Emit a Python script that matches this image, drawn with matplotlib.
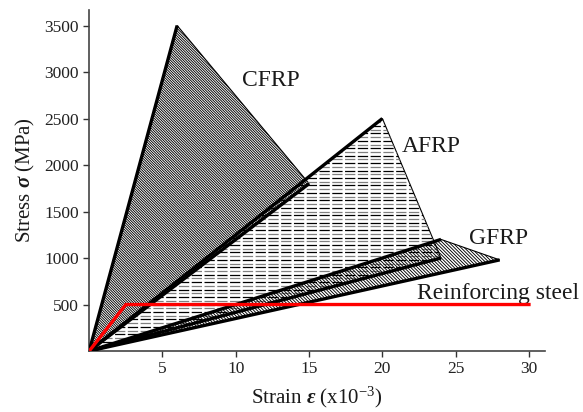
import matplotlib
matplotlib.use("Agg")
import matplotlib.pyplot as plt
import numpy as np
from matplotlib.patches import Polygon

plt.rcParams["font.family"] = ["Liberation Serif", "DejaVu Serif"]
plt.rcParams["mathtext.fontset"] = "custom"
plt.rcParams["mathtext.rm"] = "Liberation Serif"
plt.rcParams["mathtext.it"] = "Liberation Serif:italic"
plt.rcParams["mathtext.bfit"] = "Liberation Serif:bold:italic"
plt.rcParams["lines.scale_dashes"] = False
plt.rcParams["hatch.linewidth"] = 0.65

# Stress-strain envelopes: (strain x1e-3, stress MPa) corner points
cfrp_strain = [0, 6, 15]
cfrp_stress = [0, 3500, 1800]
afrp_strain = [0, 20, 24]
afrp_stress = [0, 2500, 1000]
gfrp_strain = [0, 24, 28]
gfrp_stress = [0, 1200, 980]
steel_strain = [0, 2.5, 30]
steel_stress = [0, 500, 500]

x_ticks = [5, 10, 15, 20, 25, 30]
y_ticks = [500, 1000, 1500, 2000, 2500, 3000, 3500]

fig = plt.figure(figsize=(5.83, 4.12), dpi=100)
ax = fig.add_axes([0.153, 0.148, 0.782, 0.828])
ax.set_xlim(0, 31.1)
ax.set_ylim(0, 3668)


def rays(strain, stress):
    # bold bounding rays from the origin
    for i in (1, 2):
        ax.plot([strain[0], strain[i]], [stress[0], stress[i]], color="black",
                lw=2.4, solid_capstyle="butt", zorder=4)


def envelope(strain, stress, hatch):
    poly = Polygon(np.column_stack([strain, stress]), closed=True,
                   facecolor="none", edgecolor="black", hatch=hatch,
                   linewidth=0.8, zorder=2)
    ax.add_patch(poly)
    rays(strain, stress)
    return poly


envelope(cfrp_strain, cfrp_stress, "\\" * 13)

# AFRP: rows of horizontal dashes clipped to the envelope
afrp = Polygon(np.column_stack([afrp_strain, afrp_stress]), closed=True,
               facecolor="none", edgecolor="black", linewidth=0.8, zorder=2)
ax.add_patch(afrp)
row_step = 40
for k, yv in enumerate(np.arange(20, max(afrp_stress), row_step)):
    col = "black" if k % 2 == 0 else "#808080"
    ln, = ax.plot([0, max(afrp_strain)], [yv, yv], color=col, lw=0.9,
                  dashes=(7.4, 1.8), zorder=2)
    ln.set_clip_path(afrp)
rays(afrp_strain, afrp_stress)

envelope(gfrp_strain, gfrp_stress, "\\" * 10)

ax.plot(steel_strain, steel_stress, color="#ff0000", lw=2.4, zorder=5,
        solid_joinstyle="miter")

label_kw = dict(fontsize=17, color="#1a1a1a", va="baseline", ha="left")
ax.text(10.4, 2849, "CFRP", **label_kw)
ax.text(21.3, 2142, "AFRP", **label_kw)
ax.text(25.9, 1156, "GFRP", **label_kw)
ax.text(22.35, 564, "Reinforcing steel", **label_kw)

ax.set_xticks(x_ticks)
ax.set_yticks(y_ticks)
ax.tick_params(direction="out", length=4, width=1, colors="#333333",
               labelsize=12.5, labelcolor="#222222")
for s in ("top", "right"):
    ax.spines[s].set_visible(False)
for s in ("left", "bottom"):
    ax.spines[s].set_color("#444444")
    ax.spines[s].set_linewidth(1.2)

ax.set_xlabel(r"Strain $\mathbfit{\varepsilon}$ (x10$^{-3}$)", fontsize=15,
              color="#1a1a1a", labelpad=5)
ax.set_ylabel(r"Stress $\mathbfit{\sigma}$ (MPa)", fontsize=15,
              color="#1a1a1a", labelpad=5)

fig.savefig("out.png", dpi=100)
